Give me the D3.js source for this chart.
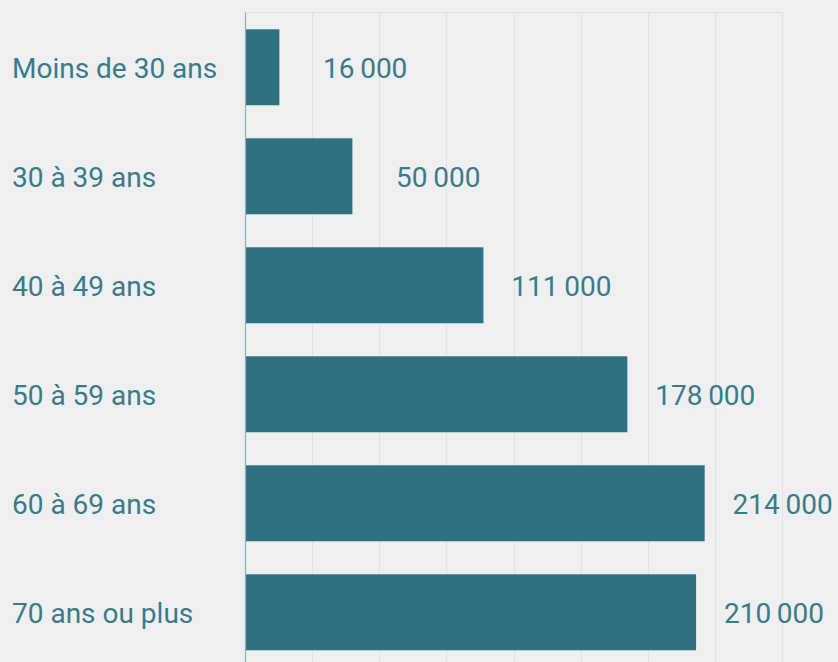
<!DOCTYPE html>
<html>
<head>
<meta charset="utf-8">
<script src="https://cdn.jsdelivr.net/npm/d3@7"></script>
<style>
  html, body { margin: 0; padding: 0; background: #efefef; }
  svg { display: block; }
  text { font-family: Roboto, "Noto Sans", sans-serif; }
</style>
</head>
<body>
<svg id="chart" width="838" height="662"></svg>
<script>
// Data
const categories = ['Moins de 30 ans', '30 à 39 ans', '40 à 49 ans', '50 à 59 ans', '60 à 69 ans', '70 ans ou plus'];
const values = [16000, 50000, 111000, 178000, 214000, 210000];
const gridTicks = [0, 31250, 62500, 93750, 125000, 156250, 187500, 218750, 250000];

const margin = { top: 12.5, left: 245, right: 56 };
const width = 838;
const height = 662;

const barColor = '#2e7282';
const textColor = '#3a7b8b';

const fr = d3.formatLocale({ decimal: ',', thousands: '\u2009', grouping: [3], currency: ['', ' €'] });
const fmt = fr.format(',d');

const svg = d3.select('#chart');

const x = d3.scaleLinear()
  .domain([0, 250000])
  .range([margin.left, width - margin.right]);

const y = d3.scaleBand()
  .domain(categories)
  .range([margin.top, margin.top + 109 * 6.005])
  .paddingInner(0.303)
  .paddingOuter(0.154);

// Grid lines
const grid = svg.append('g').attr('class', 'grid');
grid.selectAll('line')
  .data(gridTicks.slice(1))
  .enter()
  .append('line')
  .attr('x1', d => Math.round(x(d)) + 0.5)
  .attr('x2', d => Math.round(x(d)) + 0.5)
  .attr('y1', margin.top)
  .attr('y2', height)
  .attr('stroke', '#dde3e4')
  .attr('stroke-width', 1);

grid.append('line')
  .attr('x1', x(0))
  .attr('x2', Math.round(x(250000)) + 0.5)
  .attr('y1', margin.top)
  .attr('y2', margin.top)
  .attr('stroke', '#dde3e4');

// Bars
svg.append('g')
  .selectAll('rect')
  .data(values)
  .enter()
  .append('rect')
  .attr('x', x(0))
  .attr('y', (d, i) => y(categories[i]))
  .attr('width', d => x(d) - x(0))
  .attr('height', y.bandwidth())
  .attr('fill', barColor);

// Axis line
svg.append('line')
  .attr('x1', x(0) + 0.5)
  .attr('x2', x(0) + 0.5)
  .attr('y1', margin.top)
  .attr('y2', height)
  .attr('stroke', '#8fb0b7')
  .attr('stroke-width', 1.2);

// Category labels
svg.append('g')
  .selectAll('text')
  .data(categories)
  .enter()
  .append('text')
  .attr('x', 12)
  .attr('y', d => y(d) + y.bandwidth() / 2)
  .attr('dy', '0.4em')
  .attr('fill', textColor)
  .attr('font-size', 28)
  .text(d => d);

// Value labels, right-aligned a fixed distance after the bar end
svg.append('g')
  .selectAll('text')
  .data(values)
  .enter()
  .append('text')
  .attr('x', d => x(d) + 128)
  .attr('y', (d, i) => y(categories[i]) + y.bandwidth() / 2)
  .attr('dy', '0.4em')
  .attr('text-anchor', 'end')
  .attr('fill', textColor)
  .attr('font-size', 28)
  .text(d => fmt(d));
</script>
</body>
</html>
